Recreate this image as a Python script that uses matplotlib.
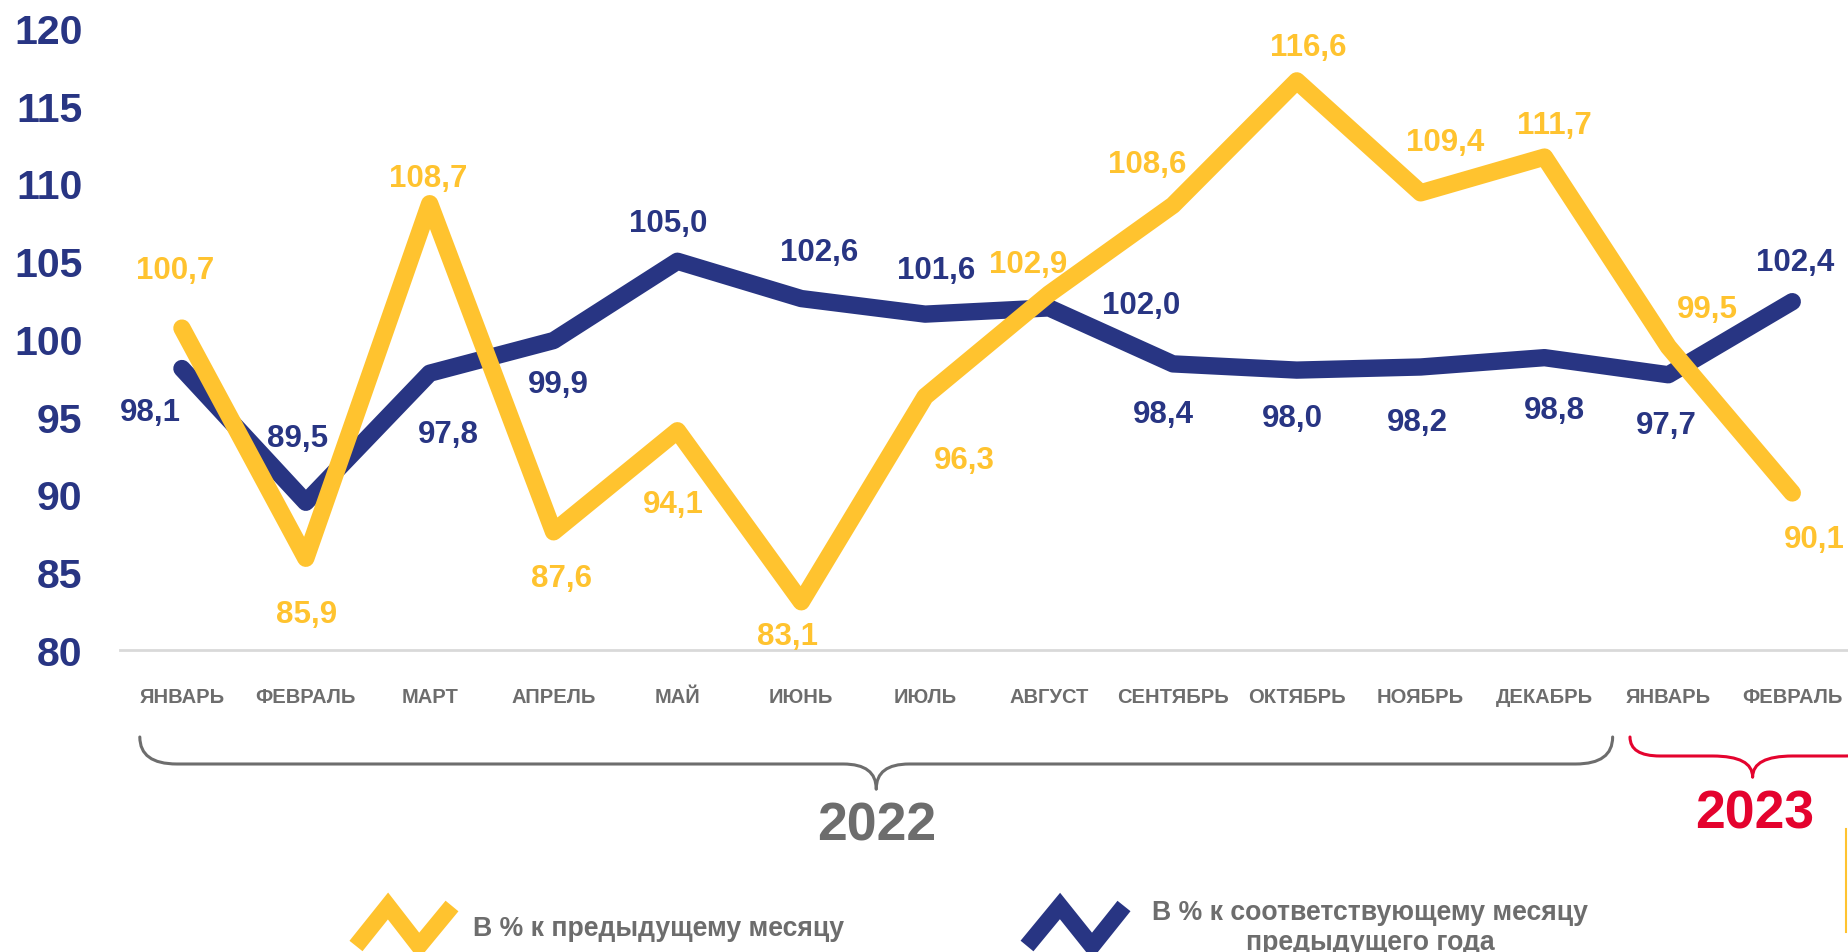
import matplotlib
matplotlib.use('Agg')
import matplotlib.pyplot as plt
from matplotlib.path import Path
from matplotlib.patches import PathPatch
from matplotlib.lines import Line2D
import matplotlib.transforms as mtrans

# ---------------- data ----------------
months = ["ЯНВАРЬ", "ФЕВРАЛЬ", "МАРТ", "АПРЕЛЬ", "МАЙ", "ИЮНЬ", "ИЮЛЬ",
          "АВГУСТ", "СЕНТЯБРЬ", "ОКТЯБРЬ", "НОЯБРЬ", "ДЕКАБРЬ", "ЯНВАРЬ", "ФЕВРАЛЬ"]
prev_month = [100.7, 85.9, 108.7, 87.6, 94.1, 83.1, 96.3, 102.9, 108.6, 116.6,
              109.4, 111.7, 99.5, 90.1]
prev_year = [98.1, 89.5, 97.8, 99.9, 105.0, 102.6, 101.6, 102.0, 98.4, 98.0,
             98.2, 98.8, 97.7, 102.4]
y_ticks = [80, 85, 90, 95, 100, 105, 110, 115, 120]
years = ["2022", "2023"]
year_ranges = [(0, 11), (12, 13)]
legend_labels = ["В % к предыдущему месяцу",
                 "В % к соответствующему месяцу\nпредыдущего года"]

# ---------------- layout / style ----------------
YELLOW = "#FFC32F"
NAVY = "#283583"
GRAY = "#6D6D6D"
RED = "#E4032E"
AXIS_GRAY = "#D9D9D9"

# label offsets in pixels (dx right, dy down)
yellow_off = [(-7, -58), (1, 56), (-1, -26), (8, 46), (-4, 73), (-14, 34), (39, 63),
              (-21, -30), (-26, -41), (11, -34), (24, -51), (10, -32), (39, -38), (22, 46)]
blue_off = [(-32, 43), (-8, -64), (19, 61), (5, 43), (-9, -38), (18, -47), (11, -44),
            (92, -3), (-10, 50), (-4, 48), (-3, 55), (10, 52), (-2, 50), (3, -40)]

W, H = 1848, 953
plt.rcParams['font.family'] = ['Liberation Sans', 'DejaVu Sans']
plt.rcParams['font.weight'] = 'bold'

fig = plt.figure(figsize=(W / 100, H / 100), dpi=100)
ax = fig.add_axes([120 / W, 1 - 651 / H, 1 - 120 / W, (651 - 29) / H])

x = list(range(len(months)))
ax.plot(x, prev_year, color=NAVY, lw=12.5, solid_capstyle='round',
        solid_joinstyle='round', zorder=3, clip_on=False)
ax.plot(x, prev_month, color=YELLOW, lw=12.5, solid_capstyle='round',
        solid_joinstyle='round', zorder=4, clip_on=False)

for i, v in enumerate(prev_month):
    dx, dy = yellow_off[i]
    ax.annotate(f"{v:.1f}".replace('.', ','), (i, v), xytext=(dx, -dy),
                textcoords='offset pixels', ha='center', va='center',
                fontsize=22.5, color=YELLOW, fontweight='bold', zorder=5,
                annotation_clip=False)
for i, v in enumerate(prev_year):
    dx, dy = blue_off[i]
    ax.annotate(f"{v:.1f}".replace('.', ','), (i, v), xytext=(dx, -dy),
                textcoords='offset pixels', ha='center', va='center',
                fontsize=22.5, color=NAVY, fontweight='bold', zorder=5,
                annotation_clip=False)

ax.set_xlim(-0.5, 13.45)
ax.set_ylim(80, 120)
ax.set_yticks(y_ticks)
ax.set_yticklabels([str(t) for t in y_ticks])
ax.set_xticks(x)
ax.set_xticklabels(months)
ax.tick_params(axis='y', length=0, pad=27, labelsize=29.5, labelcolor=NAVY)
ax.tick_params(axis='x', length=0, pad=26.5, labelsize=14.5, labelcolor=GRAY)
for s in ['top', 'right', 'left']:
    ax.spines[s].set_visible(False)
ax.spines['bottom'].set_color(AXIS_GRAY)
ax.spines['bottom'].set_linewidth(2.0)
ax.set_facecolor('none')

# pixel transform (y measured from top)
pix = mtrans.Affine2D().scale(1, -1).translate(0, H)


def xpx(i):
    return ax.transData.transform((i, 80))[0]


def brace(xl, xr, xc, ytop, yh, ytip, rxe, rxm, color, lw):
    verts = [(xl, ytop), (xl, yh), (xl + rxe, yh), (xc - rxm, yh), (xc, yh), (xc, ytip)]
    codes = [Path.MOVETO, Path.CURVE3, Path.CURVE3, Path.LINETO, Path.CURVE3, Path.CURVE3]
    fig.add_artist(PathPatch(Path(verts, codes), fc='none', ec=color, lw=lw,
                             transform=pix, capstyle='round'))
    verts = [(xr, ytop), (xr, yh), (xr - rxe, yh), (xc + rxm, yh), (xc, yh), (xc, ytip)]
    fig.add_artist(PathPatch(Path(verts, codes), fc='none', ec=color, lw=lw,
                             transform=pix, capstyle='round'))


# 2022 brace
(a0, a1), (b0, b1) = year_ranges
xl, xr = xpx(a0 - 0.34), xpx(a1 + 0.55)
brace(xl, xr, (xl + xr) / 2, 738, 765, 790, 37, 33, GRAY, 2.2)
fig.text((xl + xr) / 2, 827, years[0], transform=pix, ha='center', va='center',
         fontsize=38.5, color=GRAY, fontweight='bold')
# 2023 brace
xl, xr = xpx(b0 - 0.31), xpx(b1 + 0.67)
brace(xl, xr, (xl + xr) / 2, 738, 757, 778, 30, 40, RED, 2.2)
fig.text((xl + xr) / 2 + 2, 815, years[1], transform=pix, ha='center', va='center',
         fontsize=38.5, color=RED, fontweight='bold')

# legend
fig.add_artist(Line2D([356, 388, 419, 452], [947, 907, 947, 907], color=YELLOW, lw=12,
                      solid_capstyle='butt', solid_joinstyle='miter', transform=pix))
fig.text(473, 929, legend_labels[0], transform=pix, ha='left', va='center',
         fontsize=19.2, color=GRAY, fontweight='bold')
fig.add_artist(Line2D([1027, 1060, 1092, 1124], [947, 907, 947, 907], color=NAVY, lw=12,
                      solid_capstyle='butt', solid_joinstyle='miter', transform=pix))
fig.text(1370, 928, legend_labels[1], transform=pix, ha='center', va='center',
         fontsize=19.2, color=GRAY, fontweight='bold', linespacing=1.2)

# stray frame line at right edge
fig.add_artist(Line2D([1846, 1846], [830, 933], color=YELLOW, lw=1.5, transform=pix))

fig.savefig('out.png', dpi=100, facecolor='white')
